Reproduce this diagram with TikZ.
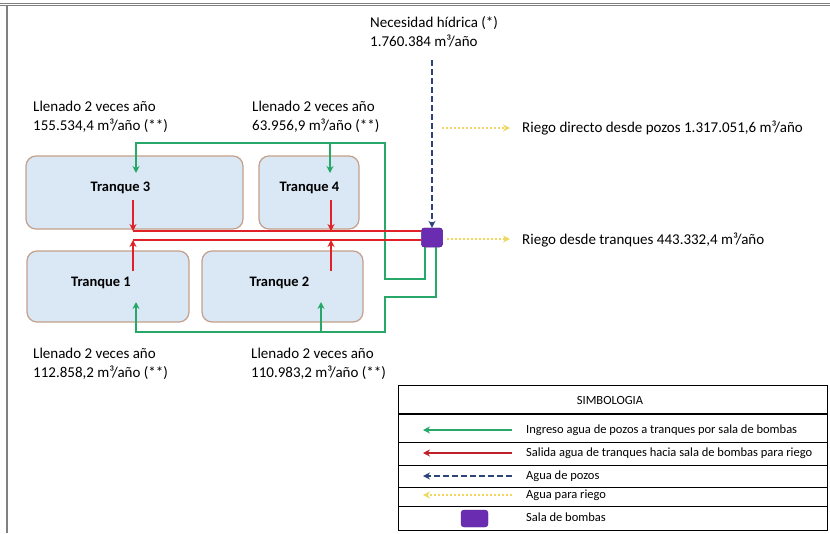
\documentclass[tikz,border=0pt]{standalone}
\usepackage{fontspec}
\setmainfont{Carlito}
\usetikzlibrary{arrows.meta}
\definecolor{grn}{HTML}{27A868}
\definecolor{rd}{HTML}{E02228}
\definecolor{drd}{HTML}{C0202A}
\definecolor{nv}{HTML}{2D4478}
\definecolor{yl}{HTML}{F0D860}
\definecolor{pp}{HTML}{6A2DB2}
\definecolor{tankfill}{HTML}{DAE8F5}
\definecolor{tankdraw}{HTML}{C4A08A}
\definecolor{frame}{HTML}{808080}
\begin{document}
\begin{tikzpicture}[x=1pt,y=-1pt,
 tank/.style={draw=tankdraw,fill=tankfill,rounded corners=10pt,line width=1.2pt,inner sep=0},
 lbl/.style={anchor=west,align=left,inner sep=0,font=\fontsize{15}{19}\selectfont},
 tlbl/.style={inner sep=0,font=\fontsize{14.5}{16}\selectfont\bfseries},
 leg/.style={anchor=west,inner sep=0,font=\fontsize{12.5}{14}\selectfont},
 gline/.style={draw=grn,line width=2.6pt},
 rline/.style={draw=rd,line width=2.6pt},
 tip/.style={-{Stealth[length=7pt,width=7pt]}},
 bdash/.style={draw=nv,line width=2.4pt,dash pattern=on 6pt off 3pt},
 ydot/.style={draw=yl,line width=2pt,dash pattern=on 2pt off 2pt},
 pumpbox/.style={fill=pp,draw=pp!80!black,rounded corners=3pt,inner sep=0}
]
\useasboundingbox (0,0) rectangle (830,533);
\fill[white] (0,0) rectangle (830,533);
% frame
\draw[frame,line width=1pt] (0,3.3) -- (830,3.3);
\draw[frame,line width=1pt] (0,5.8) -- (830,5.8);
\draw[frame,line width=1.5pt] (7,5.8) -- (7,533);

% tanks
\node[tank,minimum width=217pt,minimum height=73pt] (t3) at (134.5,192.5) {};
\node[tank,minimum width=100pt,minimum height=73pt] (t4) at (309,192.5) {};
\node[tank,minimum width=162pt,minimum height=71pt] (t1) at (108,286.5) {};
\node[tank,minimum width=161pt,minimum height=71pt] (t2) at (282.5,286.5) {};
\node[tlbl] (l3) at (120.5,188) {Tranque 3};
\node[tlbl] (l4) at (309.5,188) {Tranque 4};
\node[tlbl] (l1) at (101,283) {Tranque 1};
\node[tlbl] (l2) at (279.5,283) {Tranque 2};

% pump
\node[pumpbox,minimum width=21pt,minimum height=19pt] (pump) at (432,237.5) {};

% coordinates
\coordinate (ga0) at (425,247); \coordinate (ga1) at (425,279); \coordinate (ga2) at (385,279);
\coordinate (ga3) at (385,143); \coordinate (ga4) at (136,143); \coordinate (ga5) at (136,173);
\coordinate (gb0) at (330,143); \coordinate (gb1) at (330,173);
\coordinate (gc0) at (436,247); \coordinate (gc1) at (436,297); \coordinate (gc2) at (385,297);
\coordinate (gc3) at (385,332); \coordinate (gc4) at (136,332); \coordinate (gc5) at (136,302);
\coordinate (gd0) at (321,332); \coordinate (gd1) at (321,302);

% green
\draw[gline,tip] (ga0) -- (ga1) -- (ga2) -- (ga3) -- (ga4) -- (ga5);
\draw[gline,tip] (gb0) -- (gb1);
\draw[gline,tip] (gc0) -- (gc1) -- (gc2) -- (gc3) -- (gc4) -- (gc5);
\draw[gline,tip] (gd0) -- (gd1);

% red
\coordinate (r3s) at (133,200); \coordinate (r3e) at (133,231);
\coordinate (r4s) at (331,200); \coordinate (r4e) at (331,231);
\coordinate (r1s) at (133,271); \coordinate (r1e) at (133,240);
\coordinate (r2s) at (331,271); \coordinate (r2e) at (331,240);
\draw[rline] (r3e) -- (r3e -| pump.west);
\draw[rline] (r1e) -- (r1e -| pump.west);
\draw[rline,tip] (r3s) -- (r3e);
\draw[rline,tip] (r4s) -- (r4e);
\draw[rline,tip] (r1s) -- (r1e);
\draw[rline,tip] (r2s) -- (r2e);
\node[pumpbox,minimum width=21pt,minimum height=19pt] at (pump) {};

% blue dashed
\coordinate (nd) at (432,60);
\draw[bdash,tip] (nd) -- (pump.north);

% yellow dotted
\coordinate (y1s) at (442,128); \coordinate (y1e) at (510,128);
\coordinate (y2e) at (510,239);
\draw[ydot,-{Stealth[length=7pt,width=7pt]}] (y1s) -- (y1e);
\draw[ydot,-{Stealth[length=7pt,width=7pt]}] (pump.east |- y2e) ++(4,0) -- (y2e);

% texts
\node[lbl] (nec) at (370,32) {Necesidad hídrica (*)\\1.760.384 m³/año};
\node[lbl] (rdp) at (522,128) {Riego directo desde pozos 1.317.051,6 m³/año};
\node[lbl] (rdt) at (522,240) {Riego desde tranques 443.332,4 m³/año};
\node[lbl] (ll3) at (33,117) {Llenado 2 veces año\\155.534,4 m³/año (**)};
\node[lbl] (ll4) at (252,117) {Llenado 2 veces año\\63.956,9 m³/año (**)};
\node[lbl] (ll1) at (33,364) {Llenado 2 veces año\\112.858,2 m³/año (**)};
\node[lbl] (ll2) at (251,364) {Llenado 2 veces año\\110.983,2 m³/año (**)};

% legend
\draw[black,line width=1pt] (398,385) rectangle (827,530);
\draw[black,line width=2pt] (398,414) -- (827,414);
\foreach \yy in {442,465,487,506} \draw[black,line width=1pt] (398,\yy) -- (827,\yy);
\node[inner sep=0,font=\fontsize{12.5}{14}\selectfont] (simb) at (610,400) {SIMBOLOGIA};
\coordinate (a1s) at (512,430); \coordinate (a1e) at (423,430);
\coordinate (a2s) at (512,453); \coordinate (a2e) at (423,453);
\coordinate (a3s) at (512,476); \coordinate (a3e) at (423,476);
\coordinate (a4s) at (512,495); \coordinate (a4e) at (423,495);
\draw[gline,tip] (a1s) -- (a1e);
\draw[draw=drd,line width=2.6pt,tip] (a2s) -- (a2e);
\draw[bdash,tip] (a3s) -- (a3e);
\draw[ydot,-{Stealth[length=7pt,width=7pt]}] (a4s) -- (a4e);
\node[pumpbox,minimum width=27pt,minimum height=17pt] (legpump) at (474.5,518.5) {};
\node[leg] (e1) at (526,430) {Ingreso agua de pozos a tranques por sala de bombas};
\node[leg] (e2) at (526,453) {Salida agua de tranques hacia sala de bombas para riego};
\node[leg] (e3) at (526,476) {Agua de pozos};
\node[leg] (e4) at (526,495) {Agua para riego};
\node[leg] (e5) at (526,517) {Sala de bombas};
\end{tikzpicture}
\end{document}
